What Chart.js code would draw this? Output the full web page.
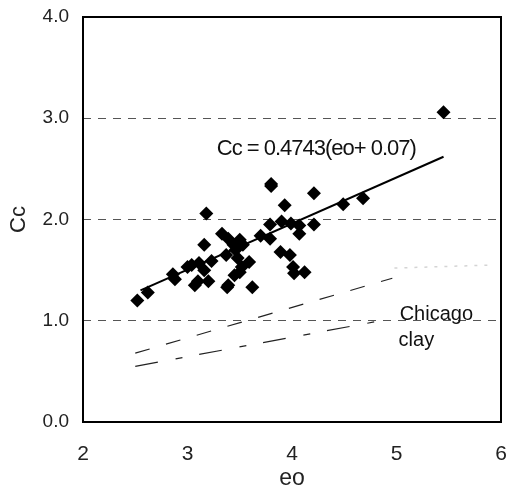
<!DOCTYPE html>
<html>
<head>
<meta charset="utf-8">
<script src="https://cdn.jsdelivr.net/npm/chart.js@4"></script>
<style>
  body { margin: 0; background: #fff; }
  #wrap { width: 509px; height: 490px; }
</style>
</head>
<body>
<div id="wrap"><canvas id="ccChart" width="509" height="490"></canvas></div>
<script>
// measured data (eo vs Cc)
const eoValues = [2.52, 2.62, 2.86, 2.88, 3.00, 3.04, 3.11, 3.16, 3.18, 3.07, 3.10, 3.20, 3.16, 3.23, 3.33, 3.39, 3.44, 3.50, 3.46, 3.37, 3.48, 3.52, 3.45, 3.39, 3.53, 3.38, 3.62, 3.59, 3.50, 3.70, 3.79, 3.80, 3.79, 3.80, 3.93, 3.90, 3.99, 4.07, 4.07, 3.89, 3.98, 4.01, 4.02, 4.12, 4.21, 4.21, 4.49, 4.68, 5.45];
const ccValues = [1.20, 1.28, 1.46, 1.41, 1.53, 1.55, 1.57, 1.75, 2.06, 1.35, 1.39, 1.39, 1.50, 1.59, 1.86, 1.81, 1.75, 1.80, 1.70, 1.65, 1.62, 1.53, 1.45, 1.35, 1.75, 1.33, 1.33, 1.58, 1.48, 1.84, 1.81, 2.35, 1.95, 2.33, 2.14, 1.98, 1.96, 1.94, 1.86, 1.68, 1.65, 1.53, 1.47, 1.48, 2.26, 1.95, 2.15, 2.21, 3.06];

// regression line end points
const fitEo = [2.55, 5.45];
const fitCc = [1.30, 2.62];

// Chicago clay lines
const chicagoUpperEo = [2.50, 4.96];
const chicagoUpperCc = [0.68, 1.42];
const chicagoLowerEo = [2.50, 4.90];
const chicagoLowerCc = [0.55, 1.01];
const faintEo = [4.98, 5.90];
const faintCc = [1.52, 1.55];

const xTicks = [2, 3, 4, 5, 6];
const yTicks = [0, 1, 2, 3, 4];
const equationLabel = 'Cc = 0.4743(eo+ 0.07)';

const toPoints = (xs, ys) => xs.map((x, i) => ({ x: x, y: ys[i] }));

const FONT = '"Liberation Sans", Arial, sans-serif';

// frame + text labels
const extras = {
    id: 'extras',
    afterDatasetsDraw(chart) {
        const { ctx, chartArea: a, scales } = chart;
        ctx.save();
        ctx.strokeStyle = '#000';
        ctx.lineWidth = 2;
        ctx.strokeRect(a.left, a.top, a.right - a.left, a.bottom - a.top);

        ctx.fillStyle = '#111';
        ctx.textBaseline = 'alphabetic';
        ctx.textAlign = 'left';
        ctx.font = '22px ' + FONT;
        ctx.letterSpacing = '-1px';
        ctx.fillText(equationLabel, scales.x.getPixelForValue(3.28), scales.y.getPixelForValue(2.64));
        ctx.letterSpacing = '0px';
        ctx.font = '20px ' + FONT;
        ctx.fillText('Chicago', scales.x.getPixelForValue(5.03), scales.y.getPixelForValue(1.01));
        ctx.fillText('clay', scales.x.getPixelForValue(5.02), scales.y.getPixelForValue(0.75));
        ctx.restore();
    }
};

const ctx = document.getElementById('ccChart').getContext('2d');
const ccChart = new Chart(ctx, {
    type: 'scatter',
    data: {
        datasets: [
            {
                label: 'Cc',
                data: toPoints(eoValues, ccValues),
                pointStyle: 'rectRot',
                pointRadius: 7,
                pointHoverRadius: 7,
                backgroundColor: '#000',
                borderColor: '#000',
                borderWidth: 0
            },
            {
                type: 'line',
                label: 'fit',
                data: toPoints(fitEo, fitCc),
                borderColor: '#000',
                borderWidth: 2,
                pointRadius: 0,
                fill: false
            },
            {
                type: 'line',
                label: 'Chicago upper',
                data: toPoints(chicagoUpperEo, chicagoUpperCc),
                borderColor: '#222',
                borderWidth: 1.2,
                borderDash: [15, 17],
                pointRadius: 0,
                fill: false
            },
            {
                type: 'line',
                label: 'Chicago lower',
                data: toPoints(chicagoLowerEo, chicagoLowerCc),
                borderColor: '#222',
                borderWidth: 1.2,
                borderDash: [23, 18, 7, 17],
                pointRadius: 0,
                fill: false
            },
            {
                type: 'line',
                label: 'faint',
                data: toPoints(faintEo, faintCc),
                borderColor: '#d4d4d4',
                borderWidth: 1.5,
                borderDash: [3, 7],
                pointRadius: 0,
                fill: false
            }
        ]
    },
    options: {
        responsive: false,
        animation: false,
        events: [],
        layout: { padding: { left: 0, right: 8, top: 17, bottom: 0 } },
        plugins: {
            legend: { display: false },
            tooltip: { enabled: false }
        },
        scales: {
            x: {
                type: 'linear',
                min: 2,
                max: 6,
                afterFit(scale) {
                    scale.height = 68;
                    scale.paddingLeft = 0;
                    scale.paddingRight = 0;
                },
                afterBuildTicks(scale) { scale.ticks = xTicks.map(v => ({ value: v })); },
                grid: { display: false, drawTicks: false },
                border: { display: false },
                ticks: {
                    padding: 20,
                    color: '#222',
                    font: { family: FONT, size: 21 },
                    callback: v => String(v)
                },
                title: {
                    display: true,
                    text: 'eo',
                    color: '#222',
                    font: { family: FONT, size: 23 },
                    padding: { top: 0, bottom: -2 }
                }
            },
            y: {
                type: 'linear',
                min: 0,
                max: 4,
                afterFit(scale) {
                    scale.width = 83;
                    scale.paddingTop = 0;
                    scale.paddingBottom = 0;
                },
                afterBuildTicks(scale) { scale.ticks = yTicks.map(v => ({ value: v })); },
                grid: {
                    drawTicks: false,
                    lineWidth: 1,
                    color: c => (c.tick && c.tick.value > 0 && c.tick.value < 4) ? '#555' : 'rgba(0,0,0,0)'
                },
                border: { display: false, dash: [8, 7] },
                ticks: {
                    padding: 14,
                    color: '#222',
                    font: { family: FONT, size: 19 },
                    callback: v => Number(v).toFixed(1)
                },
                title: {
                    display: true,
                    text: 'Cc',
                    color: '#222',
                    font: { family: FONT, size: 22 },
                    padding: { top: 6, bottom: 0 }
                }
            }
        }
    },
    plugins: [extras]
});
</script>
</body>
</html>
